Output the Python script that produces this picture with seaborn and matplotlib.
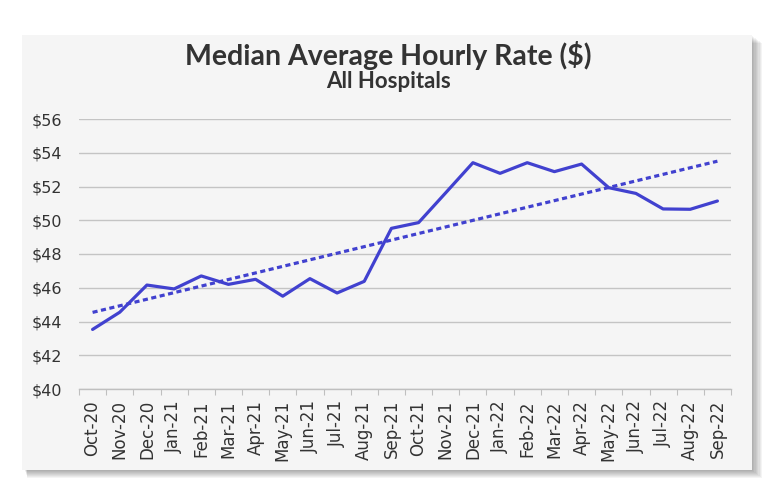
import matplotlib
matplotlib.use("Agg")
import matplotlib.pyplot as plt
import numpy as np
import pandas as pd
import seaborn as sns
from matplotlib.patches import Rectangle
from matplotlib.ticker import FixedLocator

months = ["Oct-20", "Nov-20", "Dec-20", "Jan-21", "Feb-21", "Mar-21", "Apr-21", "May-21",
          "Jun-21", "Jul-21", "Aug-21", "Sep-21", "Oct-21", "Nov-21", "Dec-21", "Jan-22",
          "Feb-22", "Mar-22", "Apr-22", "May-22", "Jun-22", "Jul-22", "Aug-22", "Sep-22"]
rate = [43.53, 44.55, 46.16, 45.93, 46.70, 46.20, 46.50, 45.50,
        46.54, 45.69, 46.38, 49.52, 49.86, 51.63, 53.41, 52.78,
        53.41, 52.88, 53.33, 51.93, 51.59, 50.67, 50.65, 51.14]
y_ticks = [40, 42, 44, 46, 48, 50, 52, 54, 56]

df = pd.DataFrame({"month": months, "rate": rate, "pos": np.arange(len(months))})
# linear trendline like the spreadsheet one
slope, intercept = np.polyfit(df["pos"], df["rate"], 1)
df["trend"] = intercept + slope * df["pos"]

sns.set_style("white")
plt.rcParams['font.family'] = ['DejaVu Sans']

W, H = 782, 504
fig = plt.figure(figsize=(W / 100, H / 100), dpi=100)
fig.patch.set_facecolor("white")

card_bg = "#f5f5f5"
line_col = "#4141cf"

# card with soft shadow
cx0, cy0, cx1, cy1 = 22, 35, 752, 470
for i in range(8):
    off = 1 + i
    fig.patches.append(Rectangle(((cx0 + 3 + i * 0.3) / W, 1 - (cy1 + off) / H),
                                 (cx1 - cx0 + off - 3) / W, (cy1 - cy0) / H,
                                 transform=fig.transFigure, facecolor="black",
                                 alpha=0.045, edgecolor="none", zorder=0))
fig.patches.append(Rectangle((cx0 / W, 1 - cy1 / H), (cx1 - cx0) / W, (cy1 - cy0) / H,
                             transform=fig.transFigure, facecolor=card_bg,
                             edgecolor="none", zorder=1))

ax = fig.add_axes([79 / W, 1 - 389 / H, (731 - 79) / W, (389 - 119) / H])
ax.set_facecolor(card_bg)
ax.set_zorder(2)

sns.lineplot(data=df, x="pos", y="rate", ax=ax, color=line_col, linewidth=2.3, zorder=3)
sns.lineplot(data=df, x="pos", y="trend", ax=ax, color=line_col, linewidth=2.3,
             linestyle=(0, (1.6, 1.1)), zorder=3)

ax.set_xlim(-0.5, len(months) - 0.5)
ax.set_ylim(40, 56)
ax.set_yticks(y_ticks)
ax.set_yticklabels([f"${v}" for v in y_ticks])
ax.set_xticks(df["pos"])
ax.set_xticklabels(months, rotation=90)
ax.xaxis.set_minor_locator(FixedLocator(np.arange(-0.5, len(months), 1)))
ax.tick_params(axis="x", which="major", length=0, pad=8, labelsize=12, colors="#333333")
ax.tick_params(axis="x", which="minor", length=4, width=0.8, color="#bfbfbf", bottom=True)
ax.tick_params(axis="y", length=0, pad=12, labelsize=11.5, colors="#333333")
ax.grid(axis="y", color="#c4c4c4", linewidth=1)
ax.set_axisbelow(True)
for s in ["top", "right", "left"]:
    ax.spines[s].set_visible(False)
ax.spines["bottom"].set_color("#bfbfbf")
ax.spines["bottom"].set_linewidth(1)
ax.set_xlabel("")
ax.set_ylabel("")

fig.text(388 / W, 1 - 56 / H, "Median Average Hourly Rate ($)", ha="center", va="center",
         fontsize=20.5, fontweight="bold", color="#333333", family=["Lato", "DejaVu Sans"],
         zorder=5)
fig.text(388 / W, 1 - 82 / H, "All Hospitals", ha="center", va="center",
         fontsize=16, fontweight="bold", color="#333333", family=["Lato", "DejaVu Sans"],
         zorder=5)

fig.savefig("out.png", dpi=100, facecolor="white")
